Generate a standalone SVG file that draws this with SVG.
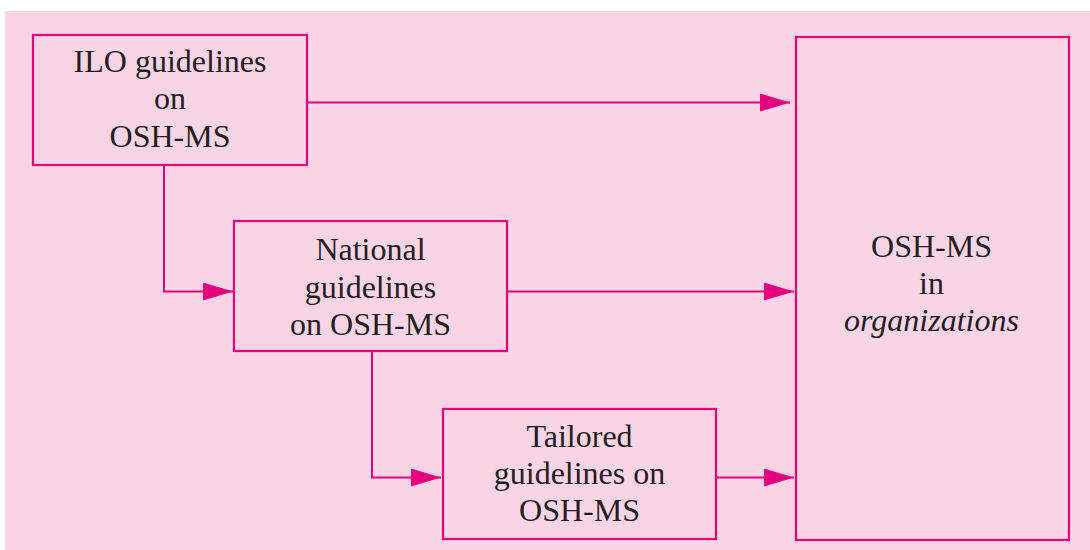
<svg xmlns="http://www.w3.org/2000/svg" width="1090" height="550" viewBox="0 0 1090 550">
<style>
.box{fill:none;stroke:#E6007E;stroke-width:2.2}
.con{fill:none;stroke:#E6007E;stroke-width:2}
.t{font-family:'Liberation Serif','DejaVu Serif',serif;font-size:32px;fill:#231F20;text-anchor:middle}
</style>
<defs>
<marker id="ah" markerWidth="30" markerHeight="18" refX="30" refY="9" orient="auto" markerUnits="userSpaceOnUse">
<path d="M0,0 L30,9 L0,18 Z" fill="#E6007E"/>
</marker>
</defs>
<rect x="0" y="0" width="1090" height="550" fill="#ffffff"/>
<rect x="5" y="11" width="1085" height="539" fill="#F9D4E5"/>
<g id="connectors">
<path class="con" d="M307,102.5 H790" marker-end="url(#ah)"/>
<path class="con" d="M164,165 V291.5 H233" marker-end="url(#ah)"/>
<path class="con" d="M507,291.5 H794" marker-end="url(#ah)"/>
<path class="con" d="M372,351 V477.5 H441" marker-end="url(#ah)"/>
<path class="con" d="M716,477.5 H794" marker-end="url(#ah)"/>
</g>
<g id="ilo">
<rect class="box" x="33" y="35" width="274" height="130"/>
<text class="t" x="170" y="72">ILO guidelines</text>
<text class="t" x="170" y="109">on</text>
<text class="t" x="170" y="147">OSH-MS</text>
</g>
<g id="national">
<rect class="box" x="234" y="221" width="273" height="130"/>
<text class="t" x="370.5" y="260">National</text>
<text class="t" x="370.5" y="297.5">guidelines</text>
<text class="t" x="370.5" y="334.5">on OSH-MS</text>
</g>
<g id="tailored">
<rect class="box" x="443" y="409" width="273" height="130"/>
<text class="t" x="579.5" y="446.5">Tailored</text>
<text class="t" x="579.5" y="483.5">guidelines on</text>
<text class="t" x="579.5" y="521">OSH-MS</text>
</g>
<g id="organizations">
<rect class="box" x="796" y="37" width="273" height="503"/>
<text class="t" x="931.5" y="257">OSH-MS</text>
<text class="t" x="931.5" y="294">in</text>
<text class="t" x="931.5" y="331" font-style="italic">organizations</text>
</g>
</svg>
